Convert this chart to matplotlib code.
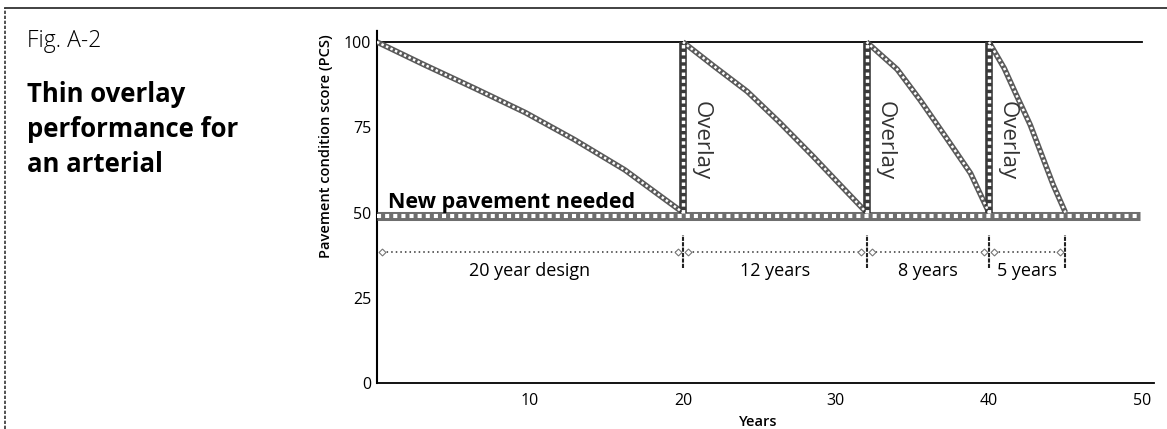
import matplotlib.pyplot as plt
from matplotlib.lines import Line2D

plt.rcParams['font.family'] = ['Open Sans', 'DejaVu Sans']

# performance curves (years, PCS)
design_years = [0, 3.1, 6.4, 9.7, 12.9, 16.2, 20]
design_pcs = [100, 93.3, 86.4, 79.3, 71.4, 62.5, 50]
overlay1_years = [20, 22, 24.2, 26.3, 28.5, 30.7, 32]
overlay1_pcs = [100, 93, 85.5, 76.5, 66.5, 56.1, 50]
overlay2_years = [32, 34, 35.5, 37.2, 38.8, 40]
overlay2_pcs = [100, 92, 83, 72, 61.5, 50]
overlay3_years = [40, 41, 41.8, 42.7, 43.4, 44.2, 45]
overlay3_pcs = [100, 92.3, 84.4, 75.7, 67.5, 58.1, 50]

overlay_at = [20, 32, 40]
new_pavement_pcs = 49
period_bounds = [0, 20, 32, 40, 45]
period_labels = ["20 year design", "12 years", "8 years", "5 years"]
period_pcs = 38.5

x_ticks = [10, 20, 30, 40, 50]
y_ticks = [0, 25, 50, 75, 100]


def hatched(ax, x, y, lw, color='#5a5a5a'):
    # grey stroke with a dotted white core, looks like a screened line
    ax.plot(x, y, color=color, lw=lw, solid_capstyle='butt',
            solid_joinstyle='round', zorder=3)
    ax.plot(x, y, color='white', lw=lw * 0.45, ls=(0, (1, 1)), zorder=4)


fig = plt.figure(figsize=(11.67, 4.29), dpi=100)
ax = fig.add_axes([0.323, 0.107, 0.666, 0.823])

ax.plot([0, 50], [100, 100], color='black', lw=1.3, zorder=2)
hatched(ax, [0, 49.9], [new_pavement_pcs, new_pavement_pcs], 6.5, '#6e6e6e')

for xs, ys in [(design_years, design_pcs), (overlay1_years, overlay1_pcs),
               (overlay2_years, overlay2_pcs), (overlay3_years, overlay3_pcs)]:
    hatched(ax, xs, ys, 4)

for x in overlay_at:
    hatched(ax, [x, x], [50, 100], 5.5, '#3a3a3a')
    ax.text(x + 1.2, 71, "Overlay", rotation=-90, ha='center', va='center',
            fontsize=16, color='#333333')

ax.text(0.7, 51.3, "New pavement needed", fontsize=15.5, fontweight='bold',
        va='baseline', ha='left')

# period dimension lines
for a, b, lab in zip(period_bounds[:-1], period_bounds[1:], period_labels):
    ax.plot([a + 0.3, b - 0.3], [period_pcs, period_pcs], color='#333333',
            lw=1.1, ls=(0, (1, 2)))
    ax.plot([a + 0.35, b - 0.35], [period_pcs, period_pcs], ls='none', marker='D',
            ms=3.5, mfc='white', mec='#777777', mew=0.8)
    ax.text((a + b) / 2, 33, lab, ha='center', va='center', fontsize=13)
for b in period_bounds[1:]:
    ax.plot([b, b], [33.7, 43.4], color='#222222', lw=1.5, ls=(0, (2, 0.6)))

ax.set_xlim(0, 50.8)
ax.set_ylim(0, 103.5)
ax.set_xticks(x_ticks)
ax.set_yticks(y_ticks)
ax.tick_params(length=0, labelsize=11.5, pad=4)
ax.tick_params(axis='x', pad=7)
for s in ['top', 'right']:
    ax.spines[s].set_visible(False)
ax.spines['left'].set_linestyle((0, (1.5, 1)))
ax.spines['left'].set_linewidth(1.5)
ax.spines['bottom'].set_linestyle((0, (3, 1)))
ax.spines['bottom'].set_linewidth(1.3)

ax.set_xlabel("Years", fontsize=10.5, fontweight='semibold')
ax.xaxis.set_label_coords(0.49, -0.09)
ax.set_ylabel("Pavement condition score (PCS)", fontsize=10.5,
              fontweight='semibold')
ax.yaxis.set_label_coords(-0.057, 0.67)

# left panel text
fig.text(27 / 1167, 1 - 47 / 429, "Fig. A-2", fontsize=16.5, fontweight='light',
         va='baseline')
for i, line in enumerate(["Thin overlay", "performance for", "an arterial"]):
    fig.text(27 / 1167, 1 - (102 + 35 * i) / 429, line, fontsize=18.5,
             fontweight='bold', va='baseline')

# page frame
fig.add_artist(Line2D([5 / 1167, 5 / 1167], [0, 1 - 8 / 429], color='#333333',
                      lw=1.2, ls=(0, (2, 1))))
fig.add_artist(Line2D([5 / 1167, 1], [1 - 8 / 429, 1 - 8 / 429], color='#333333',
                      lw=1.3))

fig.savefig('out.png', dpi=100)
